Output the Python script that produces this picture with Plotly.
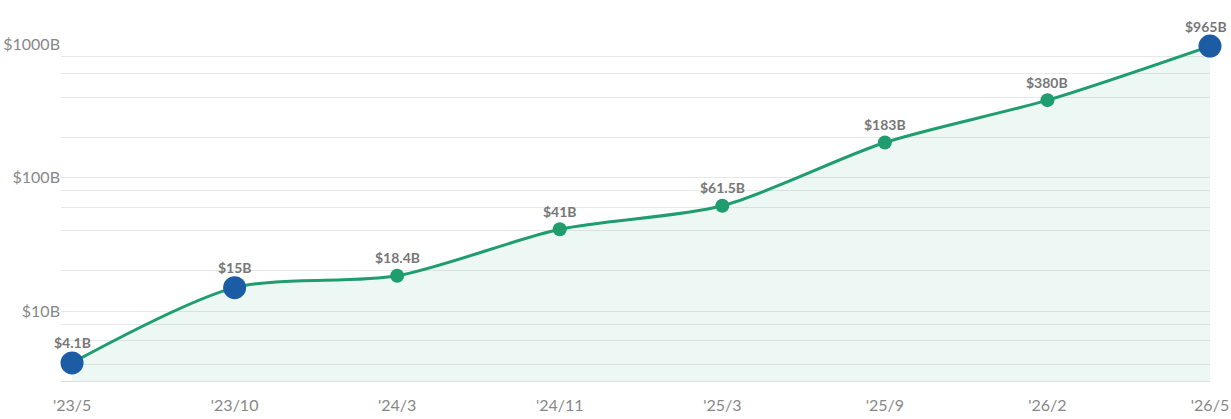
import plotly.graph_objects as go
import math

categories = ["'23/5", "'23/10", "'24/3", "'24/11", "'25/3", "'25/9", "'26/2", "'26/5"]
values = [4.1, 15, 18.4, 41, 61.5, 183, 380, 965]
labels = ["$4.1B", "$15B", "$18.4B", "$41B", "$61.5B", "$183B", "$380B", "$965B"]
highlight = [True, True, False, False, False, False, False, True]

major_vals = [10, 100, 1000]
major_text = ["$10B", "$100B", "$1000B"]
minor_vals = [4, 6, 8, 20, 40, 60, 80, 200, 400, 600, 800]

GREEN = "#1f9d6f"
BLUE = "#1b5ca5"
FONT = "Lato"

xs = list(range(len(categories)))

fig = go.Figure()
fig.add_trace(go.Scatter(
    x=xs, y=values, mode="lines",
    line=dict(color=GREEN, width=3, shape="spline", smoothing=0.8),
    fill="tozeroy", fillcolor="rgba(31,157,111,0.08)",
    hoverinfo="skip", showlegend=False,
))
fig.add_trace(go.Scatter(
    x=[x for x, h in zip(xs, highlight) if not h],
    y=[v for v, h in zip(values, highlight) if not h],
    mode="markers", marker=dict(color=GREEN, size=14),
    showlegend=False, cliponaxis=False,
))
fig.add_trace(go.Scatter(
    x=[x for x, h in zip(xs, highlight) if h],
    y=[v for v, h in zip(values, highlight) if h],
    mode="markers", marker=dict(color=BLUE, size=23),
    showlegend=False, cliponaxis=False,
))

last = len(xs) - 1
for x, v, t, h in zip(xs, values, labels, highlight):
    fig.add_annotation(
        x=x, y=math.log10(v), text="<b>" + t + "</b>", showarrow=False,
        yshift=20 if h else 18, xshift=-4 if x == last else 0,
        font=dict(family=FONT, size=14, color="#777777"),
    )

fig.update_layout(
    width=1231, height=419,
    margin=dict(l=61, r=21, t=44, b=38),
    paper_bgcolor="white", plot_bgcolor="white",
    font=dict(family=FONT, color="#888888", size=16),
)
fig.update_xaxes(
    range=[-0.068, 7], tickvals=xs, ticktext=categories, automargin=False,
    showgrid=False, zeroline=False, showline=True, linecolor="#dddddd", linewidth=1,
    ticks="outside", ticklen=10, tickcolor="rgba(0,0,0,0)",
    tickfont=dict(family=FONT, size=16, color="#888888"),
)
fig.update_yaxes(
    type="log", range=[math.log10(3), 3.0], automargin=False,
    tickvals=major_vals + minor_vals,
    ticktext=major_text + [""] * len(minor_vals),
    showgrid=True, gridcolor="#e8e8e8", gridwidth=1, zeroline=False,
    ticks="", tickfont=dict(family=FONT, size=16, color="#888888"),
)

fig.write_html("out.html")
